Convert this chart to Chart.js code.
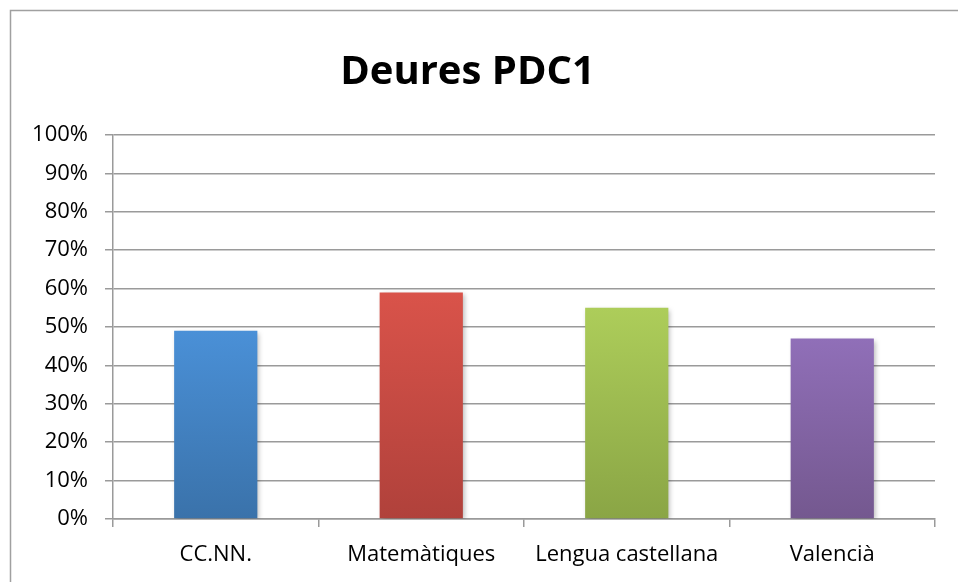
<!DOCTYPE html>
<html>
<head>
<meta charset="utf-8">
<script src="https://cdn.jsdelivr.net/npm/chart.js@4"></script>
<style>
  html, body { margin: 0; padding: 0; background: #fff; }
  #wrap { width: 958px; height: 582px; }
</style>
</head>
<body>
<div id="wrap"><canvas id="myChart" width="958" height="582"></canvas></div>
<script>
// chart data
const categories = ['CC.NN.', 'Matemàtiques', 'Lengua castellana', 'Valencià'];
const values = [0.49, 0.59, 0.55, 0.47];

// bar colours (top and bottom of the gradient)
const topColors = ['#4a90d7', '#d9534a', '#adcd5a', '#906fb8'];
const bottomColors = ['#3a72aa', '#b0413b', '#8aa545', '#74588f'];

const gridColor = '#9a9a9a';
const fontFamily = '"Open Sans", "Noto Sans", sans-serif';

// outer frame (only top and left edges are inside the picture)
const framePlugin = {
  id: 'frame',
  beforeDraw(chart) {
    const c = chart.ctx;
    c.save();
    c.strokeStyle = '#a0a0a0';
    c.lineWidth = 1.5;
    c.strokeRect(10.5, 10.5, chart.width + 20, chart.height + 20);
    c.restore();
  }
};

// soft shadow under the bars
const shadowPlugin = {
  id: 'barShadow',
  beforeDatasetsDraw(chart) {
    const c = chart.ctx;
    c.save();
    c.shadowColor = 'rgba(0,0,0,0.28)';
    c.shadowBlur = 5;
    c.shadowOffsetX = 2;
    c.shadowOffsetY = 2;
  },
  afterDatasetsDraw(chart) {
    chart.ctx.restore();
  }
};

function barGradient(context) {
  const chart = context.chart;
  const area = chart.chartArea;
  const i = context.dataIndex;
  if (!area || i === undefined) return topColors[0];
  const y = chart.scales.y;
  const yTop = y.getPixelForValue(values[i]);
  const yBottom = y.getPixelForValue(0);
  const g = chart.ctx.createLinearGradient(0, yTop, 0, yBottom);
  g.addColorStop(0, topColors[i]);
  g.addColorStop(1, bottomColors[i]);
  return g;
}

const ctx = document.getElementById('myChart').getContext('2d');
new Chart(ctx, {
  type: 'bar',
  data: {
    labels: categories,
    datasets: [
      {
        label: 'Deures PDC1',
        data: values,
        backgroundColor: barGradient,
        borderWidth: 0,
        categoryPercentage: 1,
        barPercentage: 0.405,
      },
    ],
  },
  options: {
    responsive: false,
    animation: false,
    layout: {
      padding: { left: 0, right: 23, top: 0, bottom: 0 },
    },
    scales: {
      x: {
        grid: {
          offset: true,
          drawOnChartArea: false,
          color: gridColor,
          lineWidth: 1.5,
          tickLength: 8,
        },
        border: { color: gridColor, width: 1.5 },
        ticks: {
          color: '#000',
          font: { family: fontFamily, size: 22 },
          padding: 15,
        },
        afterFit(scale) { scale.height = 63; },
      },
      y: {
        min: 0,
        max: 1,
        ticks: {
          stepSize: 0.1,
          color: '#000',
          font: { family: fontFamily, size: 22 },
          padding: 17,
          callback: (v) => Math.round(v * 100) + '%',
        },
        grid: {
          color: gridColor,
          lineWidth: 1.5,
          tickLength: 8,
        },
        border: { color: gridColor, width: 1.5 },
        afterFit(scale) { scale.width = 113; },
      },
    },
    plugins: {
      legend: { display: false },
      tooltip: { enabled: false },
      title: {
        display: true,
        text: 'Deures PDC1',
        color: '#000',
        font: { family: fontFamily, size: 40, weight: 'bold' },
        padding: { top: 49, bottom: 38 },
      },
    },
  },
  plugins: [framePlugin, shadowPlugin],
});
</script>
</body>
</html>
